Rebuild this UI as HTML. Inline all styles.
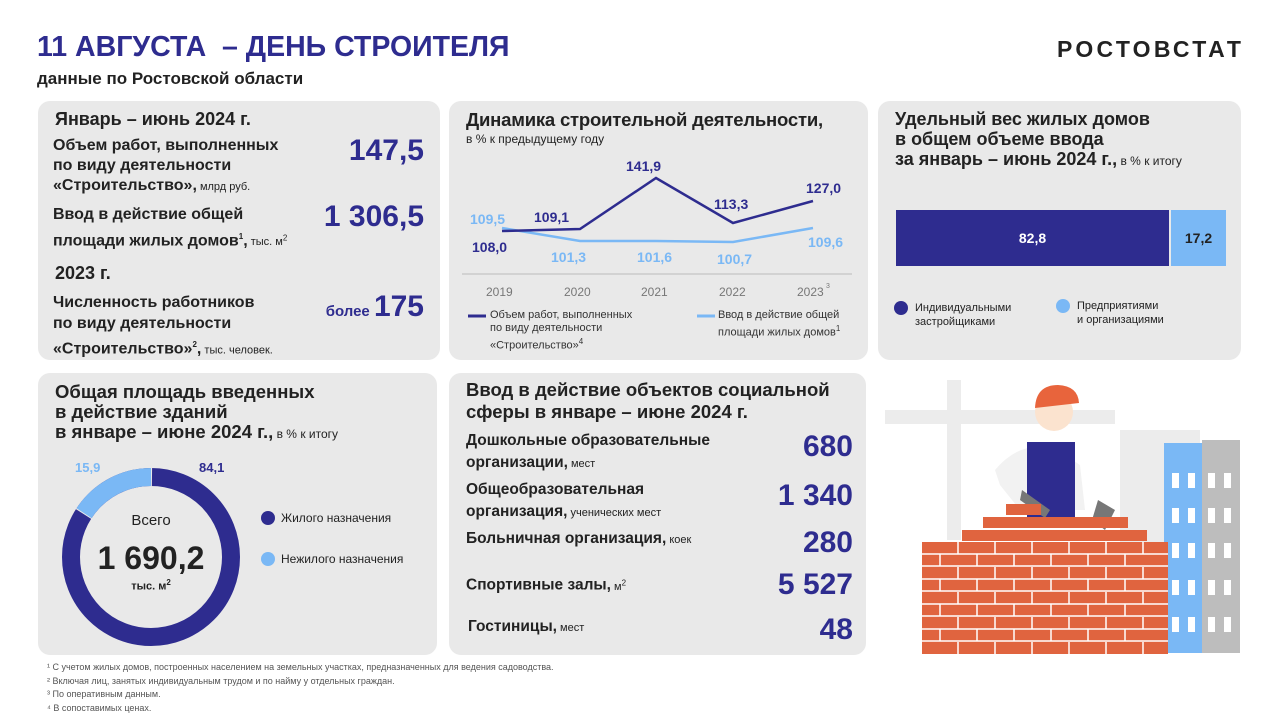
<!DOCTYPE html>
<html><head><meta charset="utf-8"><style>
*{margin:0;padding:0;box-sizing:border-box}
body{width:1280px;height:720px;background:#fff;font-family:"Liberation Sans",Arial,sans-serif;position:relative;overflow:hidden;color:#222}
.a{position:absolute}
.p{position:absolute;background:#e9e9e9;border-radius:12px}
.b{font-weight:bold}
.n{color:#2e2c8f;font-weight:bold;text-align:right}
.t{font-size:16px;font-weight:bold;line-height:20px;color:#222}
.t2{font-size:15.5px;font-weight:bold;line-height:20px;color:#222}
.s{font-size:11px;font-weight:normal}
sup{font-size:8px}
</style></head><body>
<div class="a b" style="left:37px;top:31px;font-size:28.5px;color:#2e2c8f">11 АВГУСТА &nbsp;– ДЕНЬ СТРОИТЕЛЯ</div>
<div class="a b" style="left:37px;top:69px;font-size:17px;color:#222">данные по Ростовской области</div>
<div class="a b" style="left:1057px;top:36px;font-size:23px;letter-spacing:3.3px;color:#222">РОСТОВСТАТ</div>

<div class="p" style="left:38px;top:101px;width:402px;height:259px"></div>
<div class="a b" style="left:55px;top:109px;font-size:18px">Январь – июнь 2024 г.</div>
<div class="a t" style="left:53px;top:136px">Объем работ, выполненных<br>по виду деятельности<br>«Строительство»,<span class="s"> млрд руб.</span></div>
<div class="a n" style="left:300px;top:134px;width:124px;font-size:30px">147,5</div>
<div class="a t" style="left:53px;top:204px;line-height:22px">Ввод в действие общей<br>площади жилых домов<sup>1</sup>,<span class="s"> тыс. м<sup>2</sup></span></div>
<div class="a n" style="left:290px;top:200px;width:134px;font-size:30px">1 306,5</div>
<div class="a b" style="left:55px;top:263px;font-size:18px">2023 г.</div>
<div class="a t" style="left:53px;top:292px;line-height:21px">Численность работников<br>по виду деятельности<br>«Строительство»<sup>2</sup>,<span class="s"> тыс. человек.</span></div>
<div class="a n" style="left:300px;top:290px;width:124px;font-size:30px"><span style="font-size:15px">более </span>175</div>

<div class="p" style="left:449px;top:101px;width:419px;height:259px"></div>
<div class="a b" style="left:466px;top:109px;font-size:18.5px;letter-spacing:-0.2px">Динамика строительной деятельности,</div>
<div class="a" style="left:466px;top:132px;font-size:12px">в % к предыдущему году</div>
<svg class="a" style="left:0;top:0" width="1280" height="720">
<line x1="462" y1="274" x2="852" y2="274" stroke="#bbb" stroke-width="1"/>
<polyline points="502,228 580,241 656,241 733,242 813,228" fill="none" stroke="#7ab8f5" stroke-width="2.5"/>
<polyline points="502,231 580,229 656,178 733,223 813,201" fill="none" stroke="#2e2c8f" stroke-width="2.5"/>
<g font-size="14" font-weight="bold" fill="#2e2c8f" font-family="Liberation Sans">
<text x="472" y="252">108,0</text><text x="534" y="222">109,1</text><text x="626" y="171">141,9</text><text x="714" y="209">113,3</text><text x="806" y="193">127,0</text></g>
<g font-size="14" font-weight="bold" fill="#7ab8f5" font-family="Liberation Sans">
<text x="470" y="224">109,5</text><text x="551" y="262">101,3</text><text x="637" y="262">101,6</text><text x="717" y="264">100,7</text><text x="808" y="247">109,6</text></g>
<g font-size="12" fill="#777" font-family="Liberation Sans">
<text x="486" y="296">2019</text><text x="564" y="296">2020</text><text x="641" y="296">2021</text><text x="719" y="296">2022</text><text x="797" y="296">2023</text><text x="826" y="288" font-size="7">3</text></g>
<line x1="468" y1="316" x2="486" y2="316" stroke="#2e2c8f" stroke-width="3"/>
<line x1="697" y1="316" x2="715" y2="316" stroke="#7ab8f5" stroke-width="3"/>
</svg>
<div class="a" style="left:490px;top:309px;font-size:11px;line-height:13px;color:#333">Объем работ, выполненных<br>по виду деятельности<br>«Строительство»<sup>4</sup></div>
<div class="a" style="left:718px;top:309px;font-size:11px;line-height:13px;color:#333">Ввод в действие общей<br>площади жилых домов<sup>1</sup></div>

<div class="p" style="left:878px;top:101px;width:363px;height:259px"></div>
<div class="a b" style="left:895px;top:109px;font-size:18px;line-height:20px">Удельный вес жилых домов<br>в общем объеме ввода<br>за январь – июнь 2024 г.,<span class="s" style="font-size:12px"> в % к итогу</span></div>
<div class="a b" style="left:896px;top:210px;width:273px;height:56px;background:#2e2c8f;color:#fff;font-size:14px;text-align:center;line-height:56px">82,8</div>
<div class="a b" style="left:1171px;top:210px;width:55px;height:56px;background:#7ab8f5;color:#222;font-size:14px;text-align:center;line-height:56px">17,2</div>
<div class="a" style="left:894px;top:301px;width:14px;height:14px;border-radius:50%;background:#2e2c8f"></div>
<div class="a" style="left:915px;top:301px;font-size:11px;line-height:14px">Индивидуальными<br>застройщиками</div>
<div class="a" style="left:1056px;top:299px;width:14px;height:14px;border-radius:50%;background:#7ab8f5"></div>
<div class="a" style="left:1077px;top:299px;font-size:11px;line-height:14px">Предприятиями<br>и организациями</div>

<div class="p" style="left:38px;top:373px;width:399px;height:282px"></div>
<div class="a b" style="left:55px;top:382px;font-size:18.5px;line-height:20px">Общая площадь введенных<br>в действие зданий<br>в январе – июне 2024 г.,<span class="s" style="font-size:12px"> в % к итогу</span></div>
<svg class="a" style="left:0;top:0" width="1280" height="720">
<circle cx="151" cy="557" r="80" fill="none" stroke="#2e2c8f" stroke-width="18"/>
<circle cx="151" cy="557" r="80" fill="none" stroke="#7ab8f5" stroke-width="18" stroke-dasharray="79.9 502.7" transform="rotate(-147.2 151 557)"/>
<circle cx="151" cy="557" r="80" fill="none" stroke="#e9e9e9" stroke-width="20" stroke-dasharray="1 501.7" transform="rotate(-90 151 557)"/>
<circle cx="151" cy="557" r="80" fill="none" stroke="#e9e9e9" stroke-width="20" stroke-dasharray="1 501.7" transform="rotate(-147.5 151 557)"/>
<circle cx="268" cy="518" r="7" fill="#2e2c8f"/><circle cx="268" cy="559" r="7" fill="#7ab8f5"/>
</svg>
<div class="a b" style="left:75px;top:460px;font-size:13px;color:#7ab8f5">15,9</div>
<div class="a b" style="left:199px;top:460px;font-size:13px;color:#2e2c8f">84,1</div>
<div class="a" style="left:101px;top:512px;width:100px;text-align:center;font-size:15px">Всего</div>
<div class="a b" style="left:86px;top:540px;width:130px;text-align:center;font-size:32px">1 690,2</div>
<div class="a b" style="left:101px;top:578px;width:100px;text-align:center;font-size:11px">тыс. м<sup>2</sup></div>
<div class="a" style="left:281px;top:511px;font-size:12px">Жилого назначения</div>
<div class="a" style="left:281px;top:552px;font-size:12px">Нежилого назначения</div>

<div class="p" style="left:449px;top:373px;width:417px;height:282px"></div>
<div class="a b" style="left:466px;top:379px;font-size:18.5px;line-height:22px">Ввод в действие объектов социальной<br>сферы в январе – июне 2024 г.</div>
<div class="a t2" style="left:466px;top:430px;line-height:22px">Дошкольные образовательные<br>организации,<span class="s"> мест</span></div>
<div class="a n" style="left:740px;top:430px;width:113px;font-size:30px">680</div>
<div class="a t2" style="left:466px;top:479px;line-height:22px">Общеобразовательная<br>организация,<span class="s"> ученических мест</span></div>
<div class="a n" style="left:740px;top:479px;width:113px;font-size:30px">1 340</div>
<div class="a t2" style="left:466px;top:529px">Больничная организация,<span class="s"> коек</span></div>
<div class="a n" style="left:740px;top:526px;width:113px;font-size:30px">280</div>
<div class="a t2" style="left:466px;top:573px">Спортивные залы,<span class="s"> м<sup>2</sup></span></div>
<div class="a n" style="left:740px;top:568px;width:113px;font-size:30px">5 527</div>
<div class="a t2" style="left:468px;top:617px">Гостиницы,<span class="s"> мест</span></div>
<div class="a n" style="left:740px;top:613px;width:113px;font-size:30px">48</div>

<svg class="a" style="left:870px;top:370px" width="380" height="290">
<g fill="#ececec"><rect x="77" y="10" width="14" height="160"/><rect x="15" y="40" width="230" height="14"/><rect x="250" y="60" width="80" height="200"/></g>
<rect x="294" y="73" width="40" height="210" fill="#7ab8f5"/>
<rect x="332" y="70" width="38" height="213" fill="#bdbdbd"/>
<g fill="#fff"><rect x="302" y="103" width="7" height="15"/><rect x="318" y="103" width="7" height="15"/><rect x="302" y="138" width="7" height="15"/><rect x="318" y="138" width="7" height="15"/><rect x="302" y="173" width="7" height="15"/><rect x="318" y="173" width="7" height="15"/><rect x="302" y="210" width="7" height="15"/><rect x="318" y="210" width="7" height="15"/><rect x="302" y="247" width="7" height="15"/><rect x="318" y="247" width="7" height="15"/><rect x="338" y="103" width="7" height="15"/><rect x="354" y="103" width="7" height="15"/><rect x="338" y="138" width="7" height="15"/><rect x="354" y="138" width="7" height="15"/><rect x="338" y="173" width="7" height="15"/><rect x="354" y="173" width="7" height="15"/><rect x="338" y="210" width="7" height="15"/><rect x="354" y="210" width="7" height="15"/><rect x="338" y="247" width="7" height="15"/><rect x="354" y="247" width="7" height="15"/></g>
<path d="M125 100 Q150 70 185 78 L210 95 L215 140 L150 140 L130 115Z" fill="#f2f2f2"/>
<rect x="157" y="72" width="48" height="80" fill="#2e2c8f"/>
<circle cx="184" cy="42" r="19" fill="#fbe3cf"/>
<path d="M165 38 Q166 15 188 15 Q208 16 209 33 L165 38Z" fill="#e8643c"/>
<path d="M152 120 L180 140 L175 148 L150 130Z" fill="#777"/>
<path d="M228 130 L245 140 L235 160 L222 150Z" fill="#777"/>
<g fill="#e0643f">
<rect x="136" y="134" width="35" height="11"/>
<rect x="113" y="147" width="145" height="11"/>
<rect x="92" y="160" width="185" height="11"/>
<rect x="52" y="172" width="246" height="112"/></g>
<g stroke="#fff" stroke-width="1.5">
<line x1="52" y1="184" x2="298" y2="184"/><line x1="52" y1="196" x2="298" y2="196"/><line x1="52" y1="209" x2="298" y2="209"/><line x1="52" y1="221" x2="298" y2="221"/><line x1="52" y1="234" x2="298" y2="234"/><line x1="52" y1="246" x2="298" y2="246"/><line x1="52" y1="259" x2="298" y2="259"/><line x1="52" y1="271" x2="298" y2="271"/>
<line x1="88" y1="172" x2="88" y2="284" stroke-dasharray="12 13"/><line x1="125" y1="172" x2="125" y2="284" stroke-dasharray="12 13"/><line x1="162" y1="172" x2="162" y2="284" stroke-dasharray="12 13"/><line x1="199" y1="172" x2="199" y2="284" stroke-dasharray="12 13"/><line x1="236" y1="172" x2="236" y2="284" stroke-dasharray="12 13"/><line x1="273" y1="172" x2="273" y2="284" stroke-dasharray="12 13"/>
<line x1="70" y1="184" x2="70" y2="284" stroke-dasharray="12 13"/><line x1="107" y1="184" x2="107" y2="284" stroke-dasharray="12 13"/><line x1="144" y1="184" x2="144" y2="284" stroke-dasharray="12 13"/><line x1="181" y1="184" x2="181" y2="284" stroke-dasharray="12 13"/><line x1="218" y1="184" x2="218" y2="284" stroke-dasharray="12 13"/><line x1="255" y1="184" x2="255" y2="284" stroke-dasharray="12 13"/>
</g>
</svg>

<div class="a" style="left:47px;top:661px;font-size:9px;line-height:13.5px;color:#555">¹ С учетом жилых домов, построенных населением на земельных участках, предназначенных для ведения садоводства.<br>² Включая лиц, занятых индивидуальным трудом и по найму у отдельных граждан.<br>³ По оперативным данным.<br>⁴ В сопоставимых ценах.</div>
</body></html>
